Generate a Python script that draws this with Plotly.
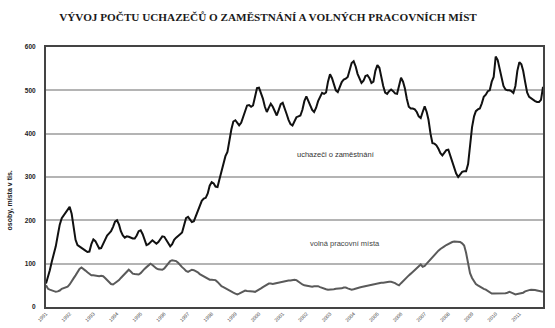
import pandas as pd
import plotly.graph_objects as go

# Monthly values, Jan 1991 .. Jan 2012 (thousands)
uchazeci = [
    54, 68, 85, 105, 120, 140, 165, 190, 205, 212, 218, 225,      # 1991
    231, 215, 185, 155, 143, 140, 138, 135, 130, 127, 128, 145,   # 1992
    156, 152, 143, 135, 136, 147, 156, 165, 170, 175, 185, 197,   # 1993
    200, 190, 175, 165, 160, 163, 162, 160, 158, 158, 165, 175,   # 1994
    177, 168, 155, 143, 145, 150, 154, 150, 146, 150, 158, 163,   # 1995
    162, 155, 147, 140, 145, 155, 160, 165, 168, 172, 190, 205,   # 1996
    208, 200, 196, 198, 210, 222, 232, 245, 250, 252, 262, 280,   # 1997
    288, 285, 278, 277, 295, 315, 335, 348, 358, 385, 410, 428,   # 1998
    431, 425, 419, 425, 440, 454, 465, 466, 462, 465, 485, 505,   # 1999
    506, 495, 481, 462, 450, 460, 469, 462, 450, 442, 455, 468,   # 2000
    471, 460, 446, 432, 422, 419, 430, 438, 440, 442, 455, 475,   # 2001
    486, 475, 465, 455, 450, 460, 475, 485, 494, 492, 495, 520,   # 2002
    537, 528, 515, 500, 496, 510, 519, 525, 527, 531, 545, 563,   # 2003
    567, 555, 538, 525, 517, 522, 533, 535, 528, 517, 520, 545,   # 2004
    558, 552, 530, 510, 495, 492, 498, 502, 498, 493, 492, 510,   # 2005
    529, 520, 505, 480, 462, 458, 458, 456, 450, 440, 436, 450,   # 2006
    463, 450, 432, 400, 378, 377, 373, 365, 355, 350, 355, 362,   # 2007
    363, 350, 338, 320, 308, 300, 305, 312, 313, 313, 330, 370,   # 2008
    415, 440, 452, 456, 458, 470, 485, 490, 498, 500, 520, 531,   # 2009
    578, 570, 550, 523, 510, 502, 500, 500, 498, 494, 510, 545,   # 2010
    565, 560, 545, 519, 495, 485, 481, 478, 475, 473, 473, 478,   # 2011
    508,                                                          # 2012
]

volna_mista = [
    50, 42, 40, 38, 37, 35, 36, 38, 42, 44, 45, 47,               # 1991
    52, 58, 66, 73, 82, 88, 91, 88, 84, 80, 76, 73,               # 1992
    73, 72, 71, 71, 72, 71, 67, 63, 58, 53, 52, 55,               # 1993
    58, 62, 67, 72, 75, 80, 86, 82, 77, 76, 75, 75,               # 1994
    78, 84, 88, 92, 96, 100, 97, 92, 89, 87, 86, 86,              # 1995
    89, 94, 100, 106, 108, 107, 106, 102, 96, 92, 88, 83,         # 1996
    81, 84, 86, 85, 83, 80, 76, 73, 70, 67, 64, 63,               # 1997
    63, 63, 62, 58, 53, 48, 46, 43, 40, 37, 35, 33,               # 1998
    31, 29, 31, 34, 37, 38, 37, 37, 37, 36, 35, 37,               # 1999
    40, 43, 46, 49, 52, 54, 54, 53, 54, 55, 56, 58,               # 2000
    59, 60, 60, 61, 61, 62, 63, 62, 58, 54, 52, 50,               # 2001
    49, 48, 48, 47, 48, 48, 48, 46, 44, 42, 41, 40,               # 2002
    40, 40, 41, 42, 42, 42, 43, 45, 45, 43, 41, 40,               # 2003
    41, 43, 44, 45, 46, 47, 48, 49, 50, 51, 52, 54,               # 2004
    55, 55, 56, 56, 57, 57, 58, 58, 57, 55, 52, 50,               # 2005
    55, 60, 65, 69, 73, 77, 81, 85, 90, 95, 98, 93,               # 2006
    95, 100, 105, 110, 115, 120, 125, 130, 134, 138, 140, 143,    # 2007
    146, 148, 150, 151, 151, 151, 150, 147, 142, 125, 100, 78,    # 2008
    67, 60, 53, 50, 47, 45, 42, 40, 37, 33, 31, 31,               # 2009
    31, 31, 32, 31, 32, 32, 33, 35, 33, 31, 29, 30,               # 2010
    31, 31, 33, 36, 38, 39, 40, 40, 39, 38, 37, 36,               # 2011
    35,                                                           # 2012
]

years = list(range(1991, 2012))
year_labels = [str(y) for y in years]
y_ticks = [0, 100, 200, 300, 400, 500, 600]

months = pd.date_range("1991-01-01", periods=len(uchazeci), freq="MS")
year_ticks = [pd.Timestamp(f"{y}-01-01") for y in years]

fig = go.Figure()
fig.add_trace(go.Scatter(x=months, y=volna_mista, mode="lines",
                         line=dict(color="#5a5a5a", width=2), hoverinfo="skip"))
fig.add_trace(go.Scatter(x=months, y=uchazeci, mode="lines",
                         line=dict(color="#111111", width=2), hoverinfo="skip"))

fig.update_layout(
    width=555, height=328,
    margin=dict(l=46, r=12, t=47, b=21, autoexpand=False),
    paper_bgcolor="white", plot_bgcolor="white",
    showlegend=False,
    title=dict(text="VÝVOJ POČTU UCHAZEČŮ O ZAMĚSTNÁNÍ A VOLNÝCH PRACOVNÍCH MÍST",
               x=268/555, xanchor="center", xref="container",
               y=1-17/328, yanchor="middle", yref="container",
               font=dict(family="Liberation Serif", size=11.2, color="#1a1a1a", weight="bold")),
    font=dict(family="Liberation Sans, Arial", color="#222"),
)

fig.update_xaxes(
    type="date",
    range=[pd.Timestamp("1991-01-01"), pd.Timestamp("2012-01-01")],
    tickmode="array", tickvals=year_ticks, ticktext=year_labels,
    tickangle=-45, tickfont=dict(size=5, color="#444"),
    showgrid=False, zeroline=False,
    showline=True, linecolor="#444", linewidth=2, mirror=True,
    ticks="", automargin=False,
)
fig.update_yaxes(
    range=[0, 600],
    tickmode="array", tickvals=y_ticks,
    tickfont=dict(size=6.5, color="#222", weight="bold"),
    ticklabelstandoff=7,
    showgrid=True, gridcolor="#b4b4b4", gridwidth=1.5,
    zeroline=False,
    showline=True, linecolor="#444", linewidth=2, mirror=True,
    ticks="", automargin=False,
)

fig.add_annotation(text="osoby, místa v tis.", xref="paper", yref="paper",
                   x=-36/497.3, y=0.41, xanchor="center", yanchor="middle",
                   textangle=-90, showarrow=False,
                   font=dict(size=7, color="#222", weight="bold"))
fig.add_annotation(text="uchazeči o zaměstnání", x=pd.Timestamp("2003-04-01"), y=352,
                   xref="x", yref="y", showarrow=False,
                   font=dict(size=7.5, color="#333"))
fig.add_annotation(text="volná pracovní místa", x=pd.Timestamp("2003-08-15"), y=147,
                   xref="x", yref="y", showarrow=False,
                   font=dict(size=7.5, color="#444"))

fig.write_html("out.html")
